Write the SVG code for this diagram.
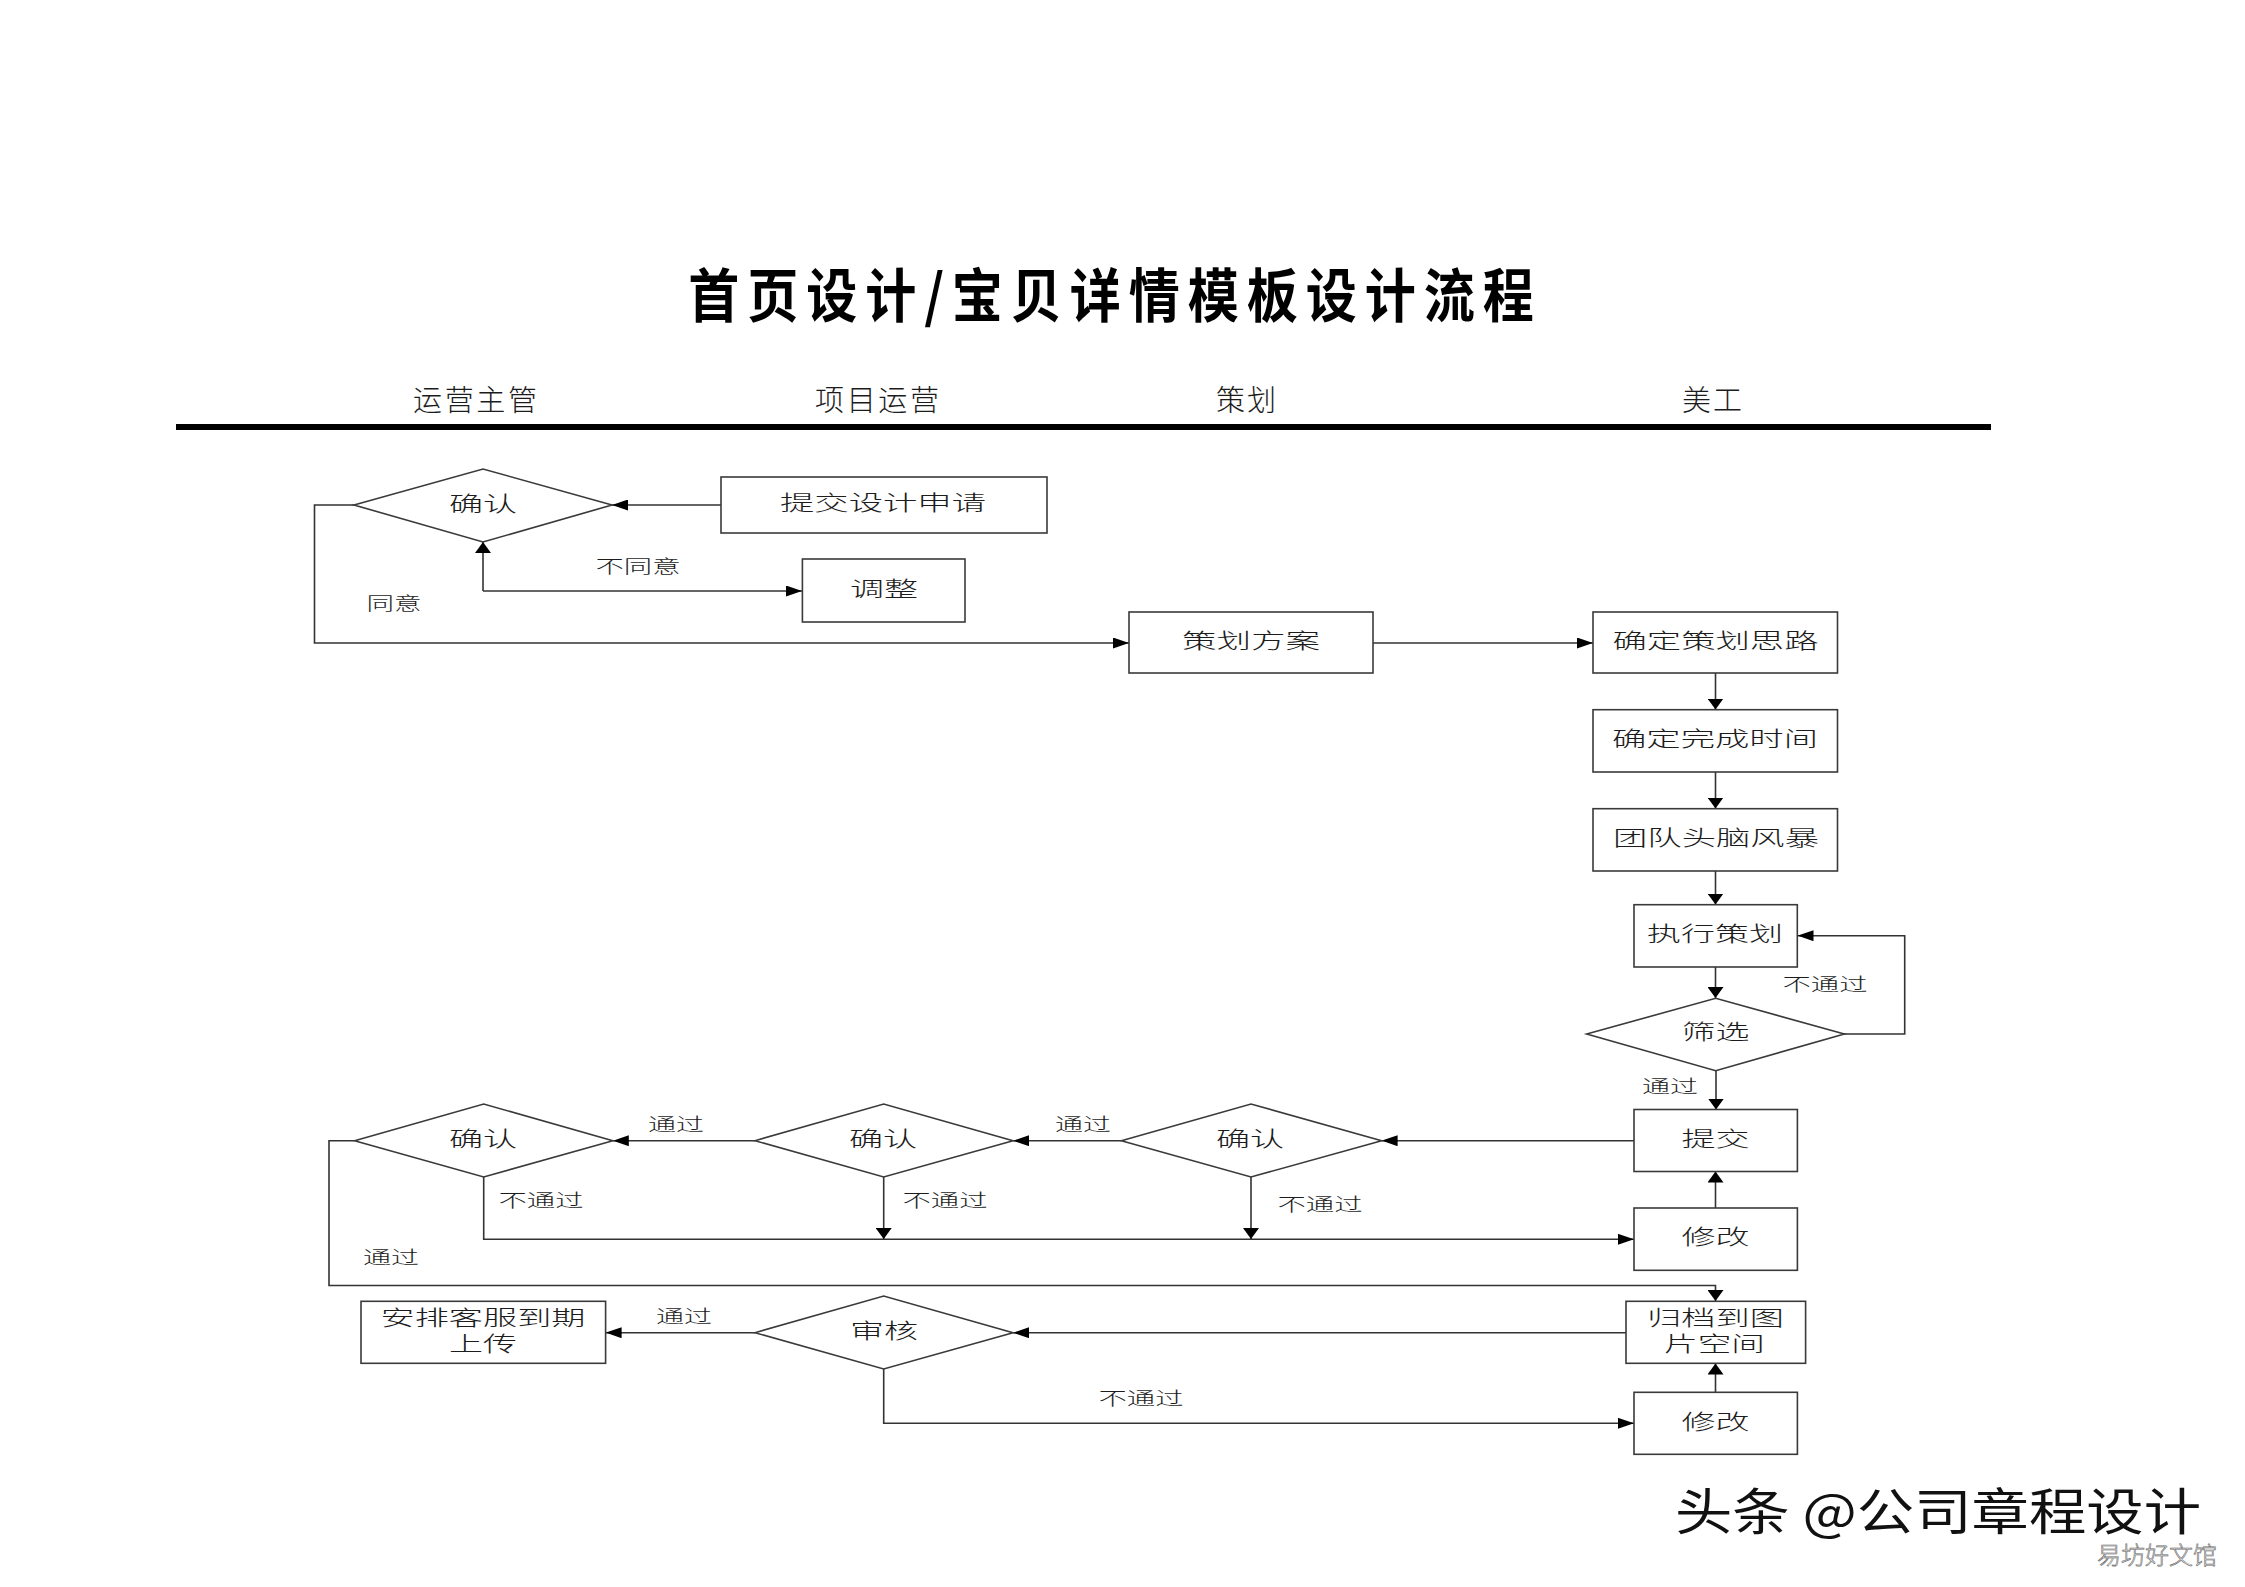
<svg xmlns="http://www.w3.org/2000/svg" width="2245" height="1587" viewBox="0 0 2245 1587">
<style>
text{font-family:"Noto Sans CJK SC","Noto Sans",sans-serif;fill:#1c1c1c;text-anchor:middle;font-weight:300}
.n{font-size:21px}
.l{font-size:18px}
.h{font-size:29px}
.t{font-size:58px;font-weight:700;fill:#000}
.s{fill:#fff;stroke:#3a3a3a;stroke-width:1.6}
.c{fill:none;stroke:#333;stroke-width:1.6}
.ch{marker-end:url(#ah)}
.cv{marker-end:url(#av)}
</style>
<defs>
<marker id="ah" markerUnits="userSpaceOnUse" markerWidth="16" markerHeight="11" refX="16" refY="5.5" orient="auto"><path d="M0 0L16 5.5L0 11z" fill="#000"/></marker>
<marker id="av" markerUnits="userSpaceOnUse" markerWidth="11" markerHeight="16" refX="11" refY="8" orient="auto"><path d="M0 0L11 8L0 16z" fill="#000"/></marker>
</defs>
<rect width="2245" height="1587" fill="#fff"/>
<g id="title">
<text class="t" transform="translate(1111 317) scale(.88 1)" x="0" y="0" textLength="961" lengthAdjust="spacing">首页设计/宝贝详情模板设计流程</text>
</g>
<g id="header">
<text class="h" x="475" y="411" textLength="124" lengthAdjust="spacing">运营主管</text>
<text class="h" x="877" y="411" textLength="124" lengthAdjust="spacing">项目运营</text>
<text class="h" x="1246" y="411" textLength="60" lengthAdjust="spacing">策划</text>
<text class="h" x="1712" y="411" textLength="60" lengthAdjust="spacing">美工</text>
<rect x="176" y="424" width="1815" height="6" fill="#000"/>
</g>
<g id="connectors">
<path class="c ch" d="M721 505H612"/>
<path class="c cv" d="M483 591V542"/>
<path class="c ch" d="M483 591H802"/>
<path class="c ch" d="M354 505H314.5V643H1129"/>
<path class="c ch" d="M1373 643H1593"/>
<path class="c cv" d="M1715.5 673V709.5"/>
<path class="c cv" d="M1715.5 772V808.5"/>
<path class="c cv" d="M1715.5 871V904.5"/>
<path class="c cv" d="M1715.5 967V998"/>
<path class="c ch" d="M1844 1034H1904.7V935.7H1797.5"/>
<path class="c cv" d="M1716 1071V1109.5"/>
<path class="c ch" d="M1634 1140.7H1381.6"/>
<path class="c ch" d="M1121.4 1140.7H1013"/>
<path class="c ch" d="M755 1140.7H612.8"/>
<path class="c ch" d="M483.7 1177V1239.3H1634"/>
<path class="c cv" d="M883.7 1177V1239"/>
<path class="c cv" d="M1251 1177V1239"/>
<path class="c cv" d="M1715.5 1208V1171.5"/>
<path class="c cv" d="M354.6 1140.7H329V1285.5H1715.5V1301"/>
<path class="c ch" d="M1626 1332.7H1013"/>
<path class="c ch" d="M755 1332.7H605.6"/>
<path class="c ch" d="M883.7 1369V1423.3H1634"/>
<path class="c cv" d="M1715.5 1392V1363.5"/>
</g>
<g id="labels">
<text class="l" x="638" y="573" textLength="85" lengthAdjust="spacingAndGlyphs">不同意</text>
<text class="l" x="394" y="610" textLength="55" lengthAdjust="spacingAndGlyphs">同意</text>
<text class="l" x="1825" y="991" textLength="85" lengthAdjust="spacingAndGlyphs">不通过</text>
<text class="l" x="1670" y="1093" textLength="56" lengthAdjust="spacingAndGlyphs">通过</text>
<text class="l" x="1083" y="1131" textLength="56" lengthAdjust="spacingAndGlyphs">通过</text>
<text class="l" x="676" y="1131" textLength="56" lengthAdjust="spacingAndGlyphs">通过</text>
<text class="l" x="541" y="1207" textLength="85" lengthAdjust="spacingAndGlyphs">不通过</text>
<text class="l" x="945" y="1207" textLength="85" lengthAdjust="spacingAndGlyphs">不通过</text>
<text class="l" x="1320" y="1211" textLength="85" lengthAdjust="spacingAndGlyphs">不通过</text>
<text class="l" x="391" y="1264" textLength="56" lengthAdjust="spacingAndGlyphs">通过</text>
<text class="l" x="684" y="1323" textLength="56" lengthAdjust="spacingAndGlyphs">通过</text>
<text class="l" x="1141" y="1405" textLength="85" lengthAdjust="spacingAndGlyphs">不通过</text>
</g>
<g id="n-confirm-1"><path class="s" d="M354 505L483 469L612 505L483 542z"/><text class="n" x="483" y="511" textLength="68" lengthAdjust="spacingAndGlyphs">确认</text></g>
<g id="n-submit-request"><rect class="s" x="721" y="477" width="326" height="56"/><text class="n" x="883" y="510" textLength="206" lengthAdjust="spacingAndGlyphs">提交设计申请</text></g>
<g id="n-adjust"><rect class="s" x="802.4" y="559" width="162.6" height="63"/><text class="n" x="884" y="596" textLength="68" lengthAdjust="spacingAndGlyphs">调整</text></g>
<g id="n-plan"><rect class="s" x="1129" y="612" width="244" height="61"/><text class="n" x="1251" y="648" textLength="138" lengthAdjust="spacingAndGlyphs">策划方案</text></g>
<g id="n-idea"><rect class="s" x="1593" y="612" width="244.5" height="61"/><text class="n" x="1715.5" y="648" textLength="206" lengthAdjust="spacingAndGlyphs">确定策划思路</text></g>
<g id="n-time"><rect class="s" x="1593" y="709.7" width="244.5" height="62.3"/><text class="n" x="1715" y="746" textLength="206" lengthAdjust="spacingAndGlyphs">确定完成时间</text></g>
<g id="n-brainstorm"><rect class="s" x="1593" y="808.7" width="244.5" height="62.3"/><text class="n" x="1716" y="845" textLength="206" lengthAdjust="spacingAndGlyphs">团队头脑风暴</text></g>
<g id="n-execute"><rect class="s" x="1634" y="904.7" width="163.3" height="62.3"/><text class="n" x="1715" y="941" textLength="136" lengthAdjust="spacingAndGlyphs">执行策划</text></g>
<g id="n-filter"><path class="s" d="M1586.7 1034L1715.7 998.3L1844.3 1034L1715.7 1070.7z"/><text class="n" x="1715.5" y="1039" textLength="68" lengthAdjust="spacingAndGlyphs">筛选</text></g>
<g id="n-submit"><rect class="s" x="1634" y="1109.5" width="163.4" height="62"/><text class="n" x="1715.5" y="1146" textLength="68" lengthAdjust="spacingAndGlyphs">提交</text></g>
<g id="n-confirm-c"><path class="s" d="M1121.4 1140.7L1251 1104L1381.6 1140.7L1251 1177z"/><text class="n" x="1250" y="1146" textLength="68" lengthAdjust="spacingAndGlyphs">确认</text></g>
<g id="n-confirm-b"><path class="s" d="M755 1140.7L883.7 1104L1013 1140.7L883.7 1177z"/><text class="n" x="883" y="1146" textLength="68" lengthAdjust="spacingAndGlyphs">确认</text></g>
<g id="n-confirm-a"><path class="s" d="M354.6 1140.7L483.7 1104L612.8 1140.7L483.7 1177z"/><text class="n" x="483" y="1146" textLength="68" lengthAdjust="spacingAndGlyphs">确认</text></g>
<g id="n-revise-1"><rect class="s" x="1634" y="1208" width="163.4" height="62.3"/><text class="n" x="1715.5" y="1244" textLength="68" lengthAdjust="spacingAndGlyphs">修改</text></g>
<g id="n-archive"><rect class="s" x="1626" y="1301.3" width="179.6" height="62"/><text class="n" x="1715.5" y="1325" textLength="137" lengthAdjust="spacingAndGlyphs">归档到图</text><text class="n" x="1714.5" y="1351" textLength="101" lengthAdjust="spacingAndGlyphs">片空间</text></g>
<g id="n-review"><path class="s" d="M755 1332.7L883.7 1296L1013 1332.7L883.7 1369z"/><text class="n" x="884" y="1338" textLength="68" lengthAdjust="spacingAndGlyphs">审核</text></g>
<g id="n-upload"><rect class="s" x="361" y="1301.3" width="244.6" height="62"/><text class="n" x="483" y="1325" textLength="205" lengthAdjust="spacingAndGlyphs">安排客服到期</text><text class="n" x="483" y="1351" textLength="68" lengthAdjust="spacingAndGlyphs">上传</text></g>
<g id="n-revise-2"><rect class="s" x="1634" y="1392.3" width="163.4" height="62"/><text class="n" x="1715.5" y="1429" textLength="68" lengthAdjust="spacingAndGlyphs">修改</text></g>
<g id="watermark">
<text x="1938" y="1530" font-size="50" style="font-weight:400;fill:#111" textLength="526" lengthAdjust="spacingAndGlyphs">头条 @公司章程设计</text>
<text x="2157" y="1564" font-size="24" style="font-weight:300;fill:#fff;stroke:#666;stroke-width:.6" textLength="120" lengthAdjust="spacing">易坊好文馆</text>
</g>
</svg>
